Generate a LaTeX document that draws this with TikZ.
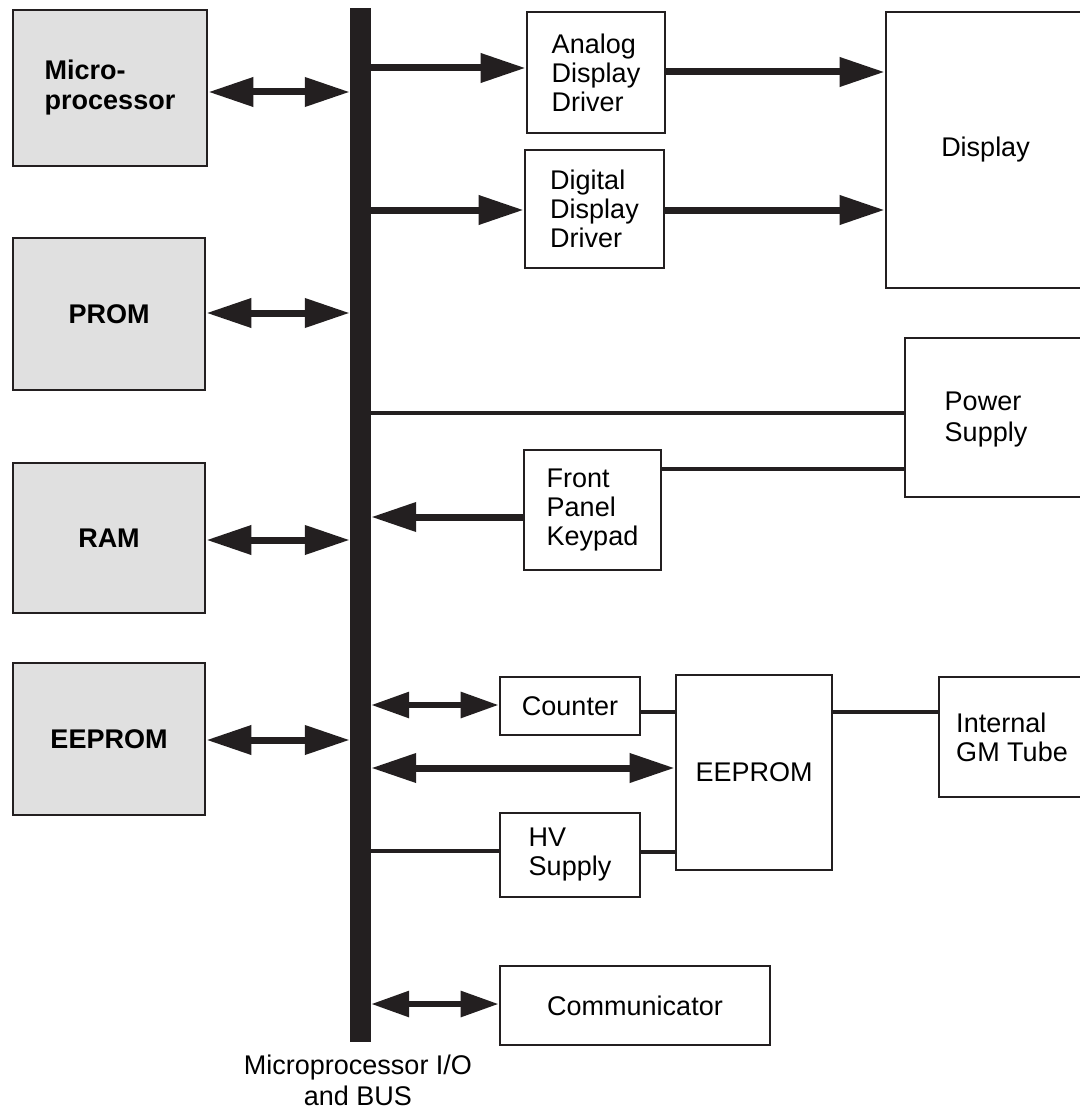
\documentclass[tikz,border=0pt]{standalone}
\usepackage{fontspec}
\setmainfont{Liberation Sans}
\usetikzlibrary{arrows.meta}
\definecolor{ink}{HTML}{231F20}
\begin{document}
\begin{tikzpicture}[x=1pt,y=-1pt,
  blk/.style={draw=ink,line width=2.8pt,inner sep=0pt,align=left,fill=white,
    font=\fontsize{27}{29}\selectfont},
  shaded/.style={blk,fill=black!12,font=\fontsize{27}{30}\selectfont\bfseries},
  big/.style={draw=ink,line width=7pt,-{Triangle[length=45pt,width=28pt]},fill=ink},
  dbl/.style={draw=ink,line width=7pt,{Triangle[length=45pt,width=28pt]}-{Triangle[length=45pt,width=28pt]},fill=ink},
  dblsm/.style={draw=ink,line width=6pt,{Triangle[length=38pt,width=25pt]}-{Triangle[length=38pt,width=25pt]},fill=ink},
  wire/.style={draw=ink,line width=4pt},
  lbl/.style={font=\fontsize{27}{31}\selectfont,align=center,inner sep=0pt}
]
\useasboundingbox (0,0) rectangle (1079,1118);
\fill[white] (0,0) rectangle (1079,1118);

% left shaded boxes
\node[shaded,minimum width=194pt,minimum height=156pt] (mp) at (110,88) {Micro-\\processor};
\node[shaded,minimum width=192pt,minimum height=152pt] (prom) at (109,314) {PROM};
\node[shaded,minimum width=192pt,minimum height=150pt] (ram) at (109,538) {RAM};
\node[shaded,minimum width=192pt,minimum height=152pt] (eepl) at (109,739) {EEPROM};

% bus
\node[fill=ink,minimum width=21pt,minimum height=1034pt,inner sep=0pt] (bus) at (360.5,525) {};
\node[lbl] (buslbl) at (358,1080) {Microprocessor I/O\\and BUS};

% right side boxes
\node[blk,minimum width=138pt,minimum height=121pt] (add) at (596,72.5) {Analog\\Display\\Driver};
\node[blk,minimum width=139pt,minimum height=118pt] (ddd) at (594.5,209) {Digital\\Display\\Driver};
\node[blk,minimum width=199pt,minimum height=276pt] (disp) at (985.5,150) {Display};
\node[blk,minimum width=180pt,minimum height=159pt] (ps) at (995,417.5) {};
\node[lbl,align=left] (pstext) at (986,420) {Power\\Supply};
\node[blk,minimum width=137pt,minimum height=120pt] (fpk) at (592.5,510) {Front\\Panel\\Keypad};
\node[blk,minimum width=140pt,minimum height=58pt] (cnt) at (570,706) {Counter};
\node[blk,minimum width=156pt,minimum height=195pt] (eep) at (754,772.5) {EEPROM};
\node[blk,minimum width=146pt,minimum height=120pt] (gm) at (1012,737) {Internal\\GM Tube};
\node[blk,minimum width=140pt,minimum height=84pt] (hv) at (570,855) {HV\\Supply};
\node[blk,minimum width=270pt,minimum height=79pt] (comm) at (635,1005.5) {Communicator};

% connectors
\draw[dbl] (mp.east |- 0,92) -- (bus.west |- 0,92);
\draw[big] (bus.east |- 0,68) -- (add.west |- 0,68);
\draw[big] (add.east |- 0,72) -- (disp.west |- 0,72);
\draw[big] (bus.east |- 0,210) -- (ddd.west |- 0,210);
\draw[big] (ddd.east |- 0,210) -- (disp.west |- 0,210);
\draw[dbl] (prom.east |- 0,313) -- (bus.west |- 0,313);
\draw[wire] (bus.east |- 0,413) -- (ps.west |- 0,413);
\draw[wire] (fpk.east |- 0,469) -- (ps.west |- 0,469);
\draw[big] (fpk.west |- 0,517) -- (bus.east |- 0,517);
\draw[dbl] (ram.east |- 0,540) -- (bus.west |- 0,540);
\draw[dblsm] (bus.east |- 0,705) -- (cnt.west |- 0,705);
\draw[wire] (cnt.east |- 0,712) -- (eep.west |- 0,712);
\draw[wire] (eep.east |- 0,712) -- (gm.west |- 0,712);
\draw[dbl] (bus.east |- 0,768) -- (eep.west |- 0,768);
\draw[dbl] (eepl.east |- 0,740) -- (bus.west |- 0,740);
\draw[wire] (bus.east |- 0,851) -- (hv.west |- 0,851);
\draw[wire] (hv.east |- 0,852) -- (eep.west |- 0,852);
\draw[dblsm] (bus.east |- 0,1004) -- (comm.west |- 0,1004);
\end{tikzpicture}
\end{document}
